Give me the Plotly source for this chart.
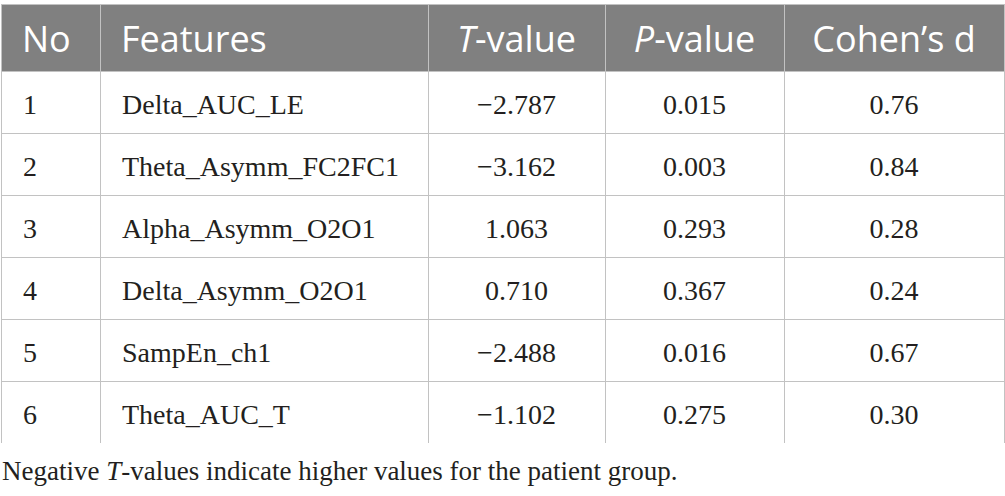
import plotly.graph_objects as go

# table data
headers = ["No", "Features", "<i>T</i>-value", "<i>P</i>-value", "Cohen’s d"]
row_no = ["1", "2", "3", "4", "5", "6"]
features = ["Delta_AUC_LE", "Theta_Asymm_FC2FC1", "Alpha_Asymm_O2O1",
            "Delta_Asymm_O2O1", "SampEn_ch1", "Theta_AUC_T"]
t_values = ["−2.787", "−3.162", "1.063", "0.710", "−2.488", "−1.102"]
p_values = ["0.015", "0.003", "0.293", "0.367", "0.016", "0.275"]
cohens_d = ["0.76", "0.84", "0.28", "0.24", "0.67", "0.30"]
footnote = "Negative <i>T</i>-values indicate higher values for the patient group."

grid = "#c2c2c2"
ink = "#231f20"


# plotly tables have no vertical centering: push the text down with a
# blank first line (small base font) and draw the real text in a span
def cell(txt, size, pad):
    return "\u00a0<br><span style='font-size:%dpx'>%s%s</span>" % (size, pad, txt)


head_pad = ["\u00a0\u200a", "\u00a0\u200a", "", "", ""]
body_pad = ["\u00a0\u00a0", "\u00a0\u00a0", "", "", ""]
columns = [row_no, features, t_values, p_values, cohens_d]

header_vals = [cell(h, 36, p) for h, p in zip(headers, head_pad)]
cell_vals = [[cell(v, 28, p) for v in col] for col, p in zip(columns, body_pad)]

table = go.Table(
    columnwidth=[99, 328, 177, 179, 220],
    header=dict(
        values=header_vals,
        fill_color="#808080",
        line=dict(color=grid, width=1),
        align=["left", "left", "center", "center", "center"],
        font=dict(family="Open Sans", size=17, color="white"),
        height=67,
    ),
    cells=dict(
        values=cell_vals,
        fill_color="white",
        line=dict(color=grid, width=1),
        align=["left", "left", "center", "center", "center"],
        font=dict(family="Liberation Serif", size=16, color=ink),
        height=62,
    ),
)

fig = go.Figure(data=[table])
fig.add_annotation(
    text=footnote, xref="paper", yref="paper", showarrow=False,
    x=-1 / 1003, y=(443 - 471) / 439,
    xanchor="left", yanchor="middle",
    font=dict(family="Liberation Serif", size=27, color=ink),
)
fig.update_layout(
    width=1005, height=496,
    margin=dict(l=1, r=1, t=4, b=53),
    paper_bgcolor="white",
)
fig.write_html("out.html", config={"displayModeBar": False},
               post_script="document.body.style.margin='0';")
